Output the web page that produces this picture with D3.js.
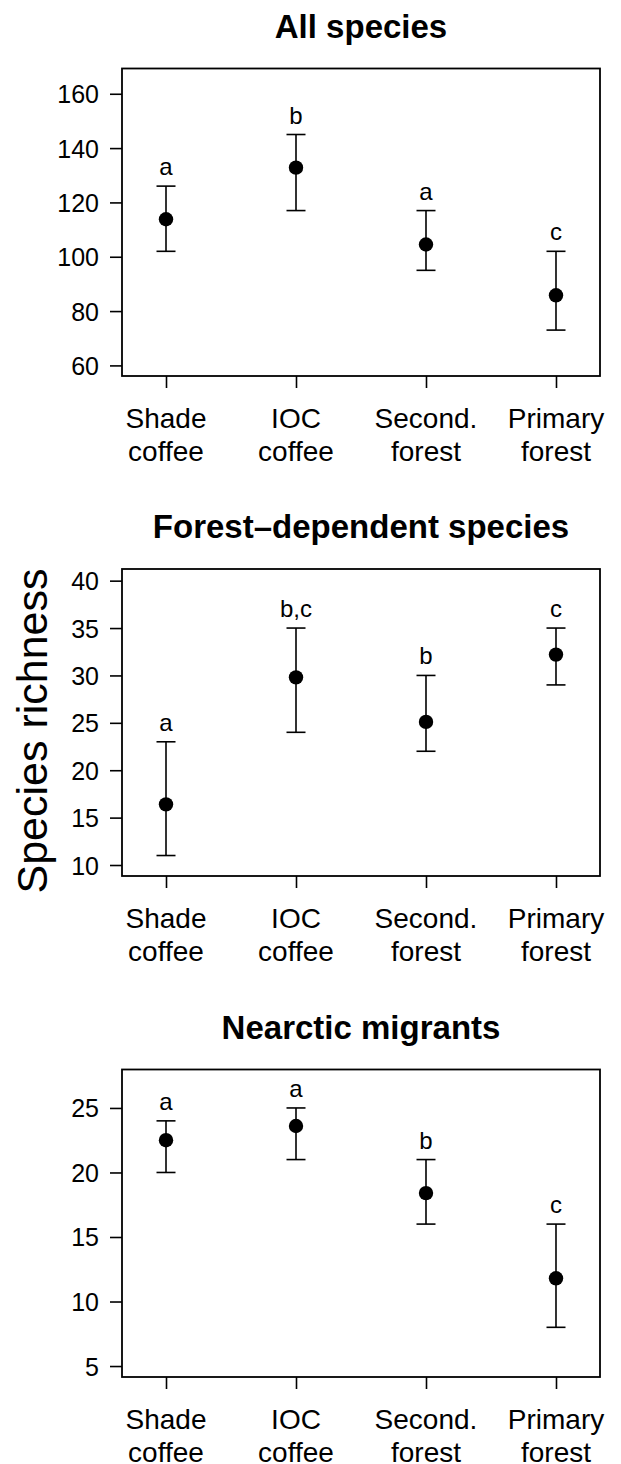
<!DOCTYPE html>
<html lang="en">
<head>
  <meta charset="UTF-8">
  <title>Species richness by habitat</title>
  <style>
    body {
      margin: 0;
      padding: 0;
      background: #fff;
    }
    svg text {
      font-family: "Liberation Sans", Arial, Helvetica, sans-serif;
      fill: #000;
    }
    .panel-title {
      font-weight: bold;
      font-size: 33px;
      text-anchor: middle;
    }
    .tick text {
      font-size: 25px;
    }
    .cat-label {
      font-size: 28px;
      text-anchor: middle;
    }
    .sig-letter {
      font-size: 24px;
      text-anchor: middle;
    }
  </style>
</head>
<body>
  <svg id="chart" width="621" height="1464"></svg>

  <script src="https://d3js.org/d3.v7.min.js"></script>
  <script>
    // habitats (two-line axis labels)
    const habitats = ["Shade coffee", "IOC coffee", "Second. forest", "Primary forest"];
    const labelTop = ["Shade", "IOC", "Second.", "Primary"];
    const labelBottom = ["coffee", "coffee", "forest", "forest"];

    const panelTitles = ["All species", "Forest\u2013dependent species", "Nearctic migrants"];

    // All species
    const allMean = [113.8, 132.8, 104.5, 85.8];
    const allLow = [102, 117, 95, 73];
    const allHigh = [126, 145, 117, 102];
    const allLetters = ["a", "b", "a", "c"];
    const allTicks = [60, 80, 100, 120, 140, 160];
    const allDomain = [56.1, 169.3];

    // Forest-dependent species
    const forestMean = [16.4, 29.8, 25.1, 32.2];
    const forestLow = [11, 24, 22, 29];
    const forestHigh = [23, 35, 30, 35];
    const forestLetters = ["a", "b,c", "b", "c"];
    const forestTicks = [10, 15, 20, 25, 30, 35, 40];
    const forestDomain = [8.84, 41.23];

    // Nearctic migrants
    const migrantMean = [22.5, 23.6, 18.4, 11.8];
    const migrantLow = [20, 21, 16, 8];
    const migrantHigh = [24, 25, 21, 16];
    const migrantLetters = ["a", "a", "b", "c"];
    const migrantTicks = [5, 10, 15, 20, 25];
    const migrantDomain = [4.15, 27.98];

    const panels = [
      { title: panelTitles[0], mean: allMean, low: allLow, high: allHigh, letters: allLetters, ticks: allTicks, domain: allDomain, top: 68.5, bottom: 376 },
      { title: panelTitles[1], mean: forestMean, low: forestLow, high: forestHigh, letters: forestLetters, ticks: forestTicks, domain: forestDomain, top: 569, bottom: 876 },
      { title: panelTitles[2], mean: migrantMean, low: migrantLow, high: migrantHigh, letters: migrantLetters, ticks: migrantTicks, domain: migrantDomain, top: 1069.5, bottom: 1377 }
    ];

    const svg = d3.select('#chart');
    const left = 122, right = 600;

    const x = d3.scalePoint()
      .domain(habitats)
      .range([left, right])
      .padding(0.3385);

    panels.forEach(function (p) {
      const y = d3.scaleLinear()
        .domain(p.domain)
        .range([p.bottom, p.top]);

      const g = svg.append('g');

      // title
      g.append('text')
        .attr('class', 'panel-title')
        .attr('x', (left + right) / 2)
        .attr('y', p.top - 31)
        .text(p.title);

      // y axis
      const yAxis = g.append('g')
        .attr('transform', `translate(${left},0)`)
        .call(d3.axisLeft(y).tickValues(p.ticks).tickSize(12).tickPadding(11).tickFormat(d3.format('d')));
      yAxis.select('.domain').remove();
      yAxis.selectAll('.tick line').attr('stroke', '#000').attr('stroke-width', 1.6);
      yAxis.selectAll('.tick text').attr('dy', '0.36em');

      // x axis ticks
      const xAxis = g.append('g')
        .attr('transform', `translate(0,${p.bottom})`)
        .call(d3.axisBottom(x).tickSize(12).tickFormat(''));
      xAxis.select('.domain').remove();
      xAxis.selectAll('.tick line').attr('stroke', '#000').attr('stroke-width', 1.6);

      // category labels
      const labels = g.selectAll('.cat-label')
        .data(habitats)
        .enter()
        .append('text')
        .attr('class', 'cat-label')
        .attr('x', d => x(d))
        .attr('y', p.bottom + 52);
      labels.append('tspan')
        .attr('x', d => x(d))
        .text((d, i) => labelTop[i]);
      labels.append('tspan')
        .attr('x', d => x(d))
        .attr('dy', 33)
        .text((d, i) => labelBottom[i]);

      // plot frame
      g.append('rect')
        .attr('x', left)
        .attr('y', p.top)
        .attr('width', right - left)
        .attr('height', p.bottom - p.top)
        .attr('fill', 'none')
        .attr('stroke', '#000')
        .attr('stroke-width', 1.8);

      // error bars
      const capW = 9.5;
      const bars = g.selectAll('.err')
        .data(habitats)
        .enter()
        .append('g')
        .attr('class', 'err')
        .attr('stroke', '#000')
        .attr('stroke-width', 1.6);
      bars.append('line')
        .attr('x1', d => x(d)).attr('x2', d => x(d))
        .attr('y1', (d, i) => y(p.low[i])).attr('y2', (d, i) => y(p.high[i]));
      bars.append('line')
        .attr('x1', d => x(d) - capW).attr('x2', d => x(d) + capW)
        .attr('y1', (d, i) => y(p.high[i])).attr('y2', (d, i) => y(p.high[i]));
      bars.append('line')
        .attr('x1', d => x(d) - capW).attr('x2', d => x(d) + capW)
        .attr('y1', (d, i) => y(p.low[i])).attr('y2', (d, i) => y(p.low[i]));

      // means
      g.selectAll('.mean')
        .data(habitats)
        .enter()
        .append('circle')
        .attr('class', 'mean')
        .attr('cx', d => x(d))
        .attr('cy', (d, i) => y(p.mean[i]))
        .attr('r', 7.2)
        .attr('fill', '#000');

      // significance letters
      g.selectAll('.sig-letter')
        .data(habitats)
        .enter()
        .append('text')
        .attr('class', 'sig-letter')
        .attr('x', d => x(d))
        .attr('y', (d, i) => y(p.high[i]) - 11)
        .text((d, i) => p.letters[i]);
    });

    // shared y label
    svg.append('text')
      .attr('transform', 'translate(47,731) rotate(-90)')
      .attr('text-anchor', 'middle')
      .style('font-size', '43px')
      .text('Species richness');
  </script>
</body>
</html>
